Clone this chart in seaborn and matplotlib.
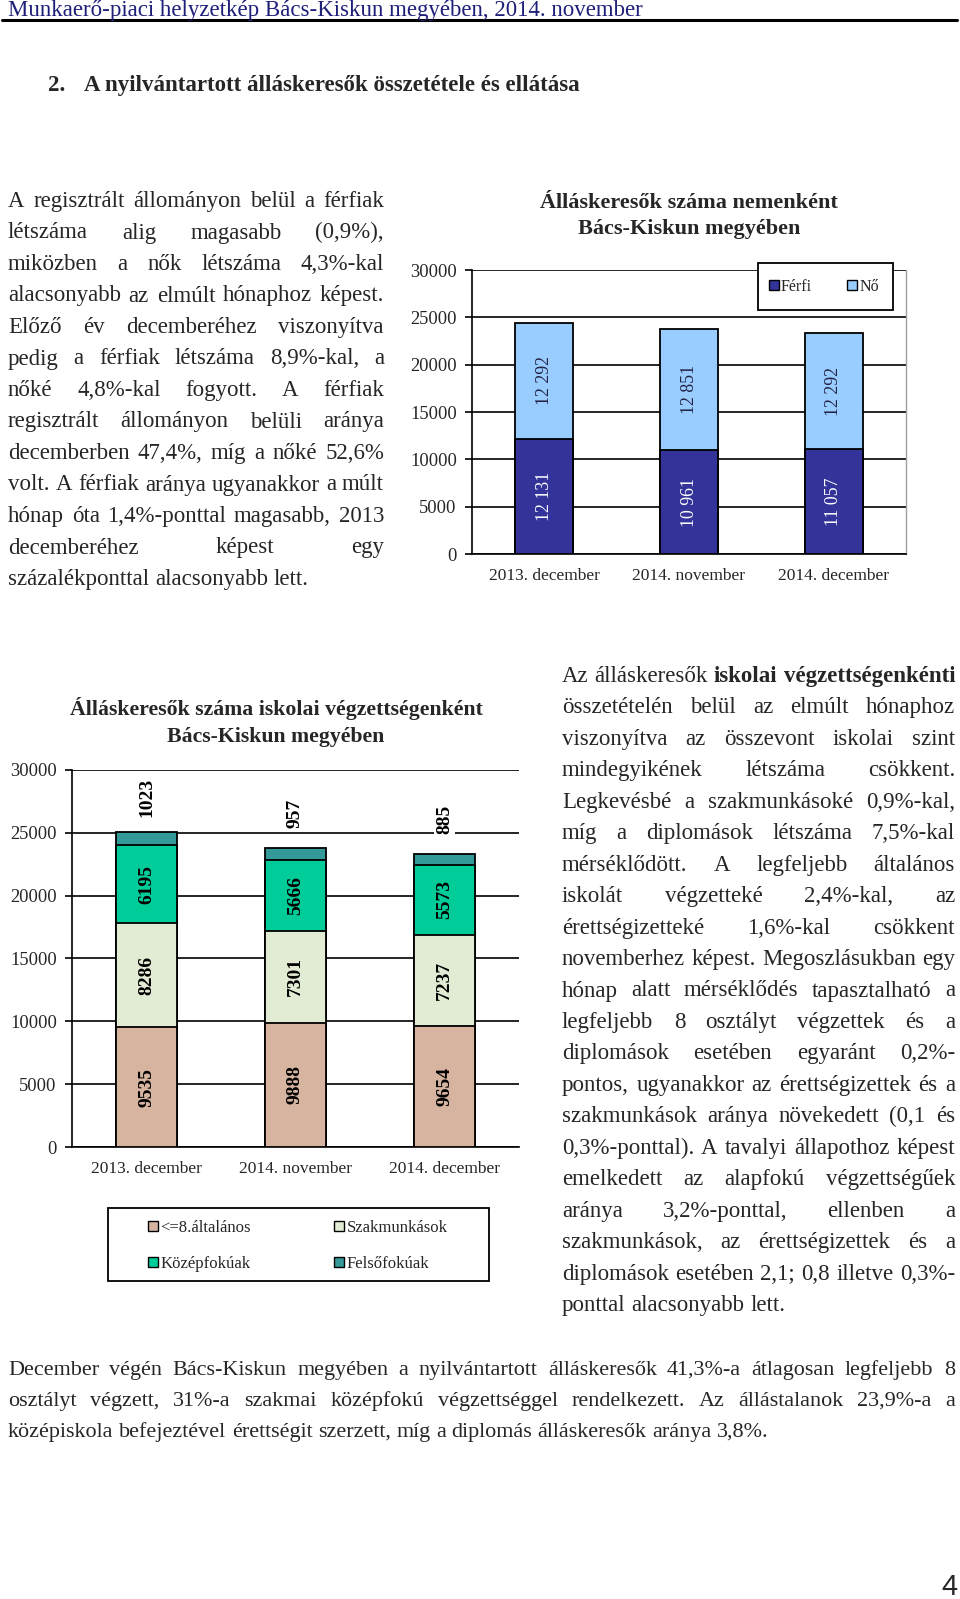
import matplotlib
matplotlib.use("Agg")
import numpy as np
import pandas as pd
import seaborn as sns
from matplotlib import pyplot as plt
from matplotlib.patches import Patch, Rectangle
from matplotlib.lines import Line2D

# --- data -------------------------------------------------------------
periods = ["2013. december", "2014. november", "2014. december"]
ferfi = [12131, 10961, 11057]
no = [12292, 12851, 12292]

alt8 = [9535, 9888, 9654]
szakm = [8286, 7301, 7237]
kozep = [6195, 5666, 5573]
felso = [1023, 957, 885]

yticks = [0, 5000, 10000, 15000, 20000, 25000, 30000]

left_lines = [
    "A regisztrált állományon belül a férfiak",
    "létszáma alig magasabb (0,9%),",
    "miközben a nők létszáma 4,3%-kal",
    "alacsonyabb az elmúlt hónaphoz képest.",
    "Előző év decemberéhez viszonyítva",
    "pedig a férfiak létszáma 8,9%-kal, a",
    "nőké 4,8%-kal fogyott. A férfiak",
    "regisztrált állományon belüli aránya",
    "decemberben 47,4%, míg a nőké 52,6%",
    "volt. A férfiak aránya ugyanakkor a múlt",
    "hónap óta 1,4%-ponttal magasabb, 2013",
    "decemberéhez képest egy",
    "százalékponttal alacsonyabb lett.",
]
right_lines = [
    "Az álláskeresők *iskolai* *végzettségenkénti*",
    "összetételén belül az elmúlt hónaphoz",
    "viszonyítva az összevont iskolai szint",
    "mindegyikének létszáma csökkent.",
    "Legkevésbé a szakmunkásoké 0,9%-kal,",
    "míg a diplomások létszáma 7,5%-kal",
    "mérséklődött. A legfeljebb általános",
    "iskolát végzetteké 2,4%-kal, az",
    "érettségizetteké 1,6%-kal csökkent",
    "novemberhez képest. Megoszlásukban egy",
    "hónap alatt mérséklődés tapasztalható a",
    "legfeljebb 8 osztályt végzettek és a",
    "diplomások esetében egyaránt 0,2%-",
    "pontos, ugyanakkor az érettségizettek és a",
    "szakmunkások aránya növekedett (0,1 és",
    "0,3%-ponttal). A tavalyi állapothoz képest",
    "emelkedett az alapfokú végzettségűek",
    "aránya 3,2%-ponttal, ellenben a",
    "szakmunkások, az érettségizettek és a",
    "diplomások esetében 2,1; 0,8 illetve 0,3%-",
    "ponttal alacsonyabb lett.",
]
bottom_lines = [
    "December végén Bács-Kiskun megyében a nyilvántartott álláskeresők 41,3%-a átlagosan legfeljebb 8",
    "osztályt végzett, 31%-a szakmai középfokú végzettséggel rendelkezett. Az állástalanok 23,9%-a a",
    "középiskola befejeztével érettségit szerzett, míg a diplomás álláskeresők aránya 3,8%.",
]

# --- style ------------------------------------------------------------
sns.set_style("white")
plt.rcParams['font.family'] = ['Liberation Serif', 'DejaVu Serif']
plt.rcParams['axes.linewidth'] = 1.2

W, H = 960, 1599
fig = plt.figure(figsize=(W / 100, H / 100), dpi=100)
fig.patch.set_facecolor("white")


def fx(x):
    return x / W


def fy(y):
    return 1 - y / H


def paragraph(lines, x0, x1, y0, dy, size):
    # justified block: every line but the last is spread to the full width
    r = fig.canvas.get_renderer()
    space = 0.25 * size * 100 / 72
    for i, line in enumerate(lines):
        arts = []
        for w in line.split():
            bold = w.startswith("*")
            t = fig.text(0, fy(y0 + i * dy), w.strip("*"), fontsize=size,
                         fontweight="bold" if bold else "normal", va="baseline", ha="left")
            arts.append(t)
        widths = [t.get_window_extent(r).width for t in arts]
        if i == len(lines) - 1 or len(arts) == 1:
            gap = space
        else:
            gap = (x1 - x0 - sum(widths)) / (len(arts) - 1)
        x = x0
        for t, wd in zip(arts, widths):
            t.set_x(fx(x))
            x += wd + gap


def style_axis(ax, right_spine):
    ax.set_ylim(0, 30000)
    ax.set_xlim(-0.5, 2.5)
    ax.set_yticks(yticks)
    ax.set_yticklabels([str(v) for v in yticks])
    ax.set_xlabel("")
    ax.set_ylabel("")
    ax.set_axisbelow(True)
    ax.yaxis.grid(True, color="black", lw=1.2)
    ax.xaxis.grid(False)
    ax.set_xticks([-0.5, 0.5, 1.5, 2.5], minor=True)
    ax.tick_params(axis="x", which="major", length=0, pad=10, labelsize=12.5)
    ax.tick_params(axis="x", which="minor", length=6, width=1.2, direction="out", color="black")
    ax.tick_params(axis="y", length=5, width=1.2, direction="out", color="black", pad=6,
                   labelsize=13.3, left=True)
    for s in ["left", "bottom"]:
        ax.spines[s].set_color("black")
    ax.spines["top"].set_visible(False)
    if right_spine:
        ax.spines["right"].set_color("#a0a0a0")
        ax.spines["right"].set_linewidth(1)
    else:
        ax.spines["right"].set_visible(False)


# --- header -----------------------------------------------------------
fig.text(fx(8), fy(16), "Munkaerő-piaci helyzetkép Bács-Kiskun megyében, 2014. november",
         fontsize=16.5, color="#1f1f7a", va="baseline")
fig.add_artist(Line2D([fx(2), fx(957)], [fy(20), fy(20)], color="black", lw=2.2))
fig.text(fx(48), fy(91), "2.", fontsize=16.5, fontweight="bold", va="baseline")
fig.text(fx(84), fy(91), "A nyilvántartott álláskeresők összetétele és ellátása",
         fontsize=16.5, fontweight="bold", va="baseline")

# --- chart 1: by gender -----------------------------------------------
c_ferfi, c_no = "#333399", "#99CCFF"
df1 = pd.DataFrame({"period": periods, "Férfi": ferfi, "Nő": no})
df1["total"] = df1["Férfi"] + df1["Nő"]

ax1 = fig.add_axes([fx(472), fy(554), (906 - 472) / W, (554 - 270) / H])
sns.barplot(data=df1, x="period", y="total", color=c_no, saturation=1, width=0.4,
            edgecolor="black", linewidth=1.3, errorbar=None, ax=ax1, zorder=3)
sns.barplot(data=df1, x="period", y="Férfi", color=c_ferfi, saturation=1, width=0.4,
            edgecolor="black", linewidth=1.3, errorbar=None, ax=ax1, zorder=3)
style_axis(ax1, True)
for i in range(len(periods)):
    ax1.text(i, ferfi[i] / 2, f"{ferfi[i]:,}".replace(",", " "), rotation=90,
             ha="center", va="center", color="white", fontsize=12.8, zorder=5)
    ax1.text(i, ferfi[i] + no[i] / 2, f"{no[i]:,}".replace(",", " "), rotation=90,
             ha="center", va="center", color="#222244", fontsize=12.8, zorder=5)

fig.text(fx(689), fy(203), "Álláskeresők száma nemenként", fontsize=16,
         fontweight="bold", ha="center", va="center")
fig.text(fx(689), fy(229), "Bács-Kiskun megyében", fontsize=16,
         fontweight="bold", ha="center", va="center")

fig.add_artist(Rectangle((fx(758), fy(310)), (893 - 758) / W, (310 - 263) / H,
                         transform=fig.transFigure, facecolor="white",
                         edgecolor="black", lw=1.3, zorder=6))
leg1 = fig.legend(handles=[Patch(facecolor=c_ferfi, edgecolor="black", label="Férfi"),
                           Patch(facecolor=c_no, edgecolor="black", label="Nő")],
                  loc="center", bbox_to_anchor=(fx(824), fy(287)), ncol=2, frameon=False,
                  fontsize=11.5, handlelength=0.6, handleheight=0.6, handletextpad=0.15,
                  columnspacing=2.2)
leg1.set_zorder(7)

# --- chart 2: by education --------------------------------------------
c_alt, c_szak, c_kozep, c_felso = "#D6B4A0", "#E2EBD3", "#00CC99", "#339999"
df2 = pd.DataFrame({"period": periods, "alt8": alt8, "szakm": szakm,
                    "kozep": kozep, "felso": felso})
df2["s1"] = df2["alt8"]
df2["s2"] = df2["s1"] + df2["szakm"]
df2["s3"] = df2["s2"] + df2["kozep"]
df2["s4"] = df2["s3"] + df2["felso"]

ax2 = fig.add_axes([fx(72), fy(1147), (519 - 72) / W, (1147 - 770) / H])
for col, c in [("s4", c_felso), ("s3", c_kozep), ("s2", c_szak), ("s1", c_alt)]:
    sns.barplot(data=df2, x="period", y=col, color=c, saturation=1, width=0.415,
                edgecolor="black", linewidth=1.3, errorbar=None, ax=ax2, zorder=3)
style_axis(ax2, False)
for i in range(len(periods)):
    base = 0
    for seg in [alt8, szakm, kozep]:
        ax2.text(i, base + seg[i] / 2, str(seg[i]), rotation=90, ha="center", va="center",
                 fontsize=14, fontweight="bold", color="black", zorder=5)
        base += seg[i]
    ax2.text(i, base + felso[i] + 2750, str(felso[i]), rotation=90, ha="center", va="center",
             fontsize=14, fontweight="bold", color="black", zorder=5,
             bbox=dict(facecolor="white", edgecolor="none", pad=1.5))

fig.text(fx(276), fy(709), "Álláskeresők száma iskolai végzettségenként", fontsize=15.7,
         fontweight="bold", ha="center", va="center")
fig.text(fx(276), fy(737), "Bács-Kiskun megyében", fontsize=15.7,
         fontweight="bold", ha="center", va="center")

fig.add_artist(Rectangle((fx(108), fy(1281)), (489 - 108) / W, (1281 - 1208) / H,
                         transform=fig.transFigure, facecolor="white",
                         edgecolor="black", lw=1.3, zorder=6))
leg2 = fig.legend(handles=[Patch(facecolor=c_alt, edgecolor="black", label="<=8.általános"),
                           Patch(facecolor=c_kozep, edgecolor="black", label="Középfokúak"),
                           Patch(facecolor=c_szak, edgecolor="black", label="Szakmunkások"),
                           Patch(facecolor=c_felso, edgecolor="black", label="Felsőfokúak")],
                  loc="center", bbox_to_anchor=(fx(298), fy(1246)), ncol=2, frameon=False,
                  fontsize=12, handlelength=0.6, handleheight=0.6, handletextpad=0.15,
                  columnspacing=5.0, labelspacing=1.2)
leg2.set_zorder(7)

# --- text blocks ------------------------------------------------------
paragraph(left_lines, 8, 384, 207, 31.5, 16.5)
paragraph(right_lines, 562, 955, 682, 31.45, 16.5)
paragraph(bottom_lines, 8, 955, 1375, 31, 15.9)

fig.text(fx(957), fy(1595), "4", fontsize=21, family="Liberation Sans", ha="right", va="baseline")

fig.savefig("out.png", dpi=100)
